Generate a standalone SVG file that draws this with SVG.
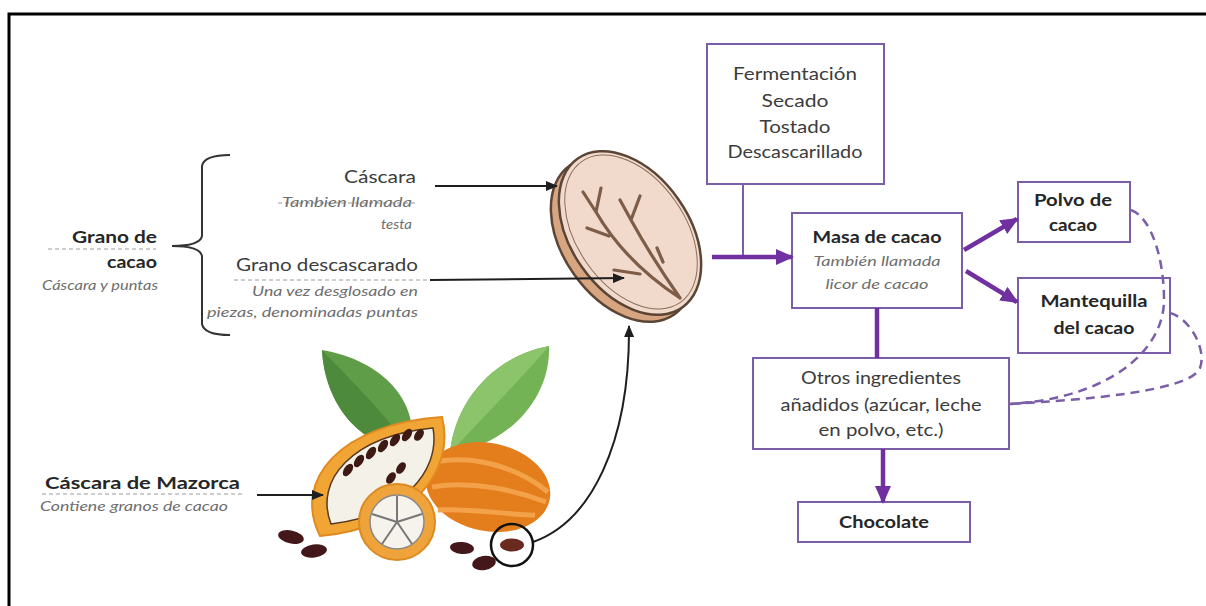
<svg xmlns="http://www.w3.org/2000/svg" width="1206" height="606" viewBox="0 0 1206 606">
<defs>
<style>
.t{font-family:Lato,"Open Sans","Liberation Sans",sans-serif;fill:#3c3c3c;font-size:17px}
.b{font-weight:bold;fill:#262626}
.it{font-style:italic;fill:#6e6e6e;font-size:13.5px}
.box{fill:#fff;stroke:#7b5ea7;stroke-width:2}
.dash{stroke:#9a9a9a;stroke-width:1;stroke-dasharray:4 3;fill:none}
.blk{stroke:#1e1e1e;stroke-width:2;fill:none}
.pur{stroke:#7030a0;stroke-width:4.5;fill:none}
.pdash{stroke:#7b5ea7;stroke-width:2.5;stroke-dasharray:9 6;fill:none}
.vein{stroke:#7d5c48;stroke-width:3.2;fill:none;stroke-linecap:round;stroke-linejoin:round}
</style>
<marker id="ab" markerUnits="userSpaceOnUse" markerWidth="12" markerHeight="10" refX="11" refY="5" orient="auto"><path d="M0,0 L12,5 L0,10 Z" fill="#1e1e1e"/></marker>
<marker id="ap" markerUnits="userSpaceOnUse" markerWidth="18" markerHeight="16" refX="16" refY="8" orient="auto"><path d="M0,0 L18,8 L0,16 Z" fill="#7030a0"/></marker>
</defs>
<rect width="1206" height="606" fill="#fff"/>
<path d="M9,606 L9,14 L1206,14" stroke="#000" stroke-width="3" fill="none"/>

<g id="grano-de-cacao">
<text class="t b" x="157" y="243" text-anchor="end" textLength="85" lengthAdjust="spacingAndGlyphs" font-size="18">Grano de</text>
<line class="dash" x1="48" y1="249" x2="156" y2="249"/>
<text class="t b" x="157" y="268" text-anchor="end" textLength="50" lengthAdjust="spacingAndGlyphs" font-size="18">cacao</text>
<text class="t it" x="158" y="290" text-anchor="end" textLength="116" lengthAdjust="spacingAndGlyphs">Cáscara y puntas</text>
<path d="M230,155 Q204,155 202,166 L202,236 Q200,246 172,246 Q200,246 202,256 L202,324 Q204,335 230,335" stroke="#333" stroke-width="2" fill="none"/>
</g>

<g id="cascara">
<text class="t" x="416" y="183" text-anchor="end" textLength="72" lengthAdjust="spacingAndGlyphs">Cáscara</text>
<line class="dash" x1="278" y1="203" x2="418" y2="203"/>
<text class="t it" x="412" y="207" text-anchor="end" textLength="130" lengthAdjust="spacingAndGlyphs">Tambien llamada</text>
<text class="t it" x="412" y="229" text-anchor="end" textLength="31" lengthAdjust="spacingAndGlyphs">testa</text>
</g>

<g id="grano-descascarado">
<text class="t" x="418" y="271" text-anchor="end" textLength="182" lengthAdjust="spacingAndGlyphs">Grano descascarado</text>
<line class="dash" x1="234" y1="280" x2="432" y2="280"/>
<text class="t it" x="418" y="296" text-anchor="end" textLength="166" lengthAdjust="spacingAndGlyphs">Una vez desglosado en</text>
<text class="t it" x="418" y="317" text-anchor="end" textLength="211" lengthAdjust="spacingAndGlyphs">piezas, denominadas puntas</text>
</g>

<g id="cascara-mazorca">
<text class="t b" x="45" y="489" textLength="195" lengthAdjust="spacingAndGlyphs" font-size="18">Cáscara de Mazorca</text>
<line class="dash" x1="42" y1="494" x2="245" y2="494"/>
<text class="t it" x="40" y="511" textLength="188" lengthAdjust="spacingAndGlyphs">Contiene granos de cacao</text>
</g>

<g id="grano-ilustracion">
<ellipse cx="0" cy="0" rx="91" ry="59" transform="translate(622,240) rotate(55)" fill="#d7a680" stroke="#5a4536" stroke-width="2.5"/>
<ellipse cx="0" cy="0" rx="91" ry="59" transform="translate(630,233) rotate(55)" fill="#f1dacb" stroke="#5a4536" stroke-width="2.5"/>
<ellipse cx="0" cy="0" rx="86" ry="54" transform="translate(631,232) rotate(55)" fill="none" stroke="#8a6d5a" stroke-width="1"/>
<path class="vein" d="M583,192 L596,212 M601,188 L596,212 Q625,262 680,298 M620,200 L631,220 M640,196 L631,220 Q652,258 680,298 M587,228 L609,236 M614,270 L640,274 M657,248 L663,262"/>
</g>

<g id="mazorca-ilustracion">
<path d="M322,350 C382,360 422,402 410,452 C360,446 325,405 322,350 Z" fill="#5f9d48"/>
<path d="M322,350 C360,390 392,420 410,452 C360,446 325,405 322,350 Z" fill="#4e8a3b"/>
<path d="M549,346 C551,400 506,446 450,453 C455,400 495,356 549,346 Z" fill="#73b356"/>
<path d="M549,346 C520,380 480,420 450,453 C455,400 495,356 549,346 Z" fill="#8cc46c"/>
<ellipse cx="0" cy="0" rx="63" ry="44" transform="translate(488,487) rotate(12)" fill="#e47d1c"/>
<path d="M435,462 C470,455 515,465 548,492 M432,487 C470,480 515,490 546,502 M438,510 C470,508 510,515 535,515" stroke="#f3a24a" stroke-width="5" fill="none"/>
<path d="M320,536 C292,480 340,424 442,417 C456,472 410,528 320,536 Z" fill="#f0a535" stroke="#e08a20" stroke-width="2"/>
<path d="M331,524 C314,480 352,436 433,428 C441,472 400,516 331,524 Z" fill="#f4f1e8" stroke="#5a3a20" stroke-width="1.5"/>
<g fill="#3d1a14">
<ellipse cx="348" cy="470" rx="4" ry="7" transform="rotate(35 348 470)"/>
<ellipse cx="359" cy="461" rx="4" ry="7" transform="rotate(35 359 461)"/>
<ellipse cx="371" cy="453" rx="4" ry="7" transform="rotate(35 371 453)"/>
<ellipse cx="383" cy="446" rx="4" ry="7" transform="rotate(35 383 446)"/>
<ellipse cx="395" cy="440" rx="4" ry="7" transform="rotate(35 395 440)"/>
<ellipse cx="407" cy="435" rx="4" ry="7" transform="rotate(35 407 435)"/>
<ellipse cx="419" cy="435" rx="4" ry="6.5" transform="rotate(35 419 435)"/>
<ellipse cx="401" cy="468" rx="4" ry="6.5" transform="rotate(35 401 468)"/>
<ellipse cx="391" cy="478" rx="4" ry="6.5" transform="rotate(35 391 478)"/>
</g>
<circle cx="397" cy="522" r="38" fill="#eea43a" stroke="#dc8a22" stroke-width="2"/>
<circle cx="397" cy="522" r="27" fill="#f6f3ec" stroke="#8a8a8a" stroke-width="1.5"/>
<path d="M397,522 L397,496 M397,522 L422,514 M397,522 L412,544 M397,522 L382,544 M397,522 L372,514" stroke="#777" stroke-width="2"/>
<g fill="#44181a">
<ellipse cx="291" cy="537" rx="13" ry="6.5" transform="rotate(12 291 537)"/>
<ellipse cx="314" cy="551" rx="13" ry="6.5" transform="rotate(-8 314 551)"/>
<ellipse cx="462" cy="548" rx="12" ry="6" transform="rotate(5 462 548)"/>
<ellipse cx="484" cy="563" rx="12" ry="7" transform="rotate(-10 484 563)"/>
<ellipse cx="512" cy="545" rx="12" ry="6.5" fill="#6b2a20"/>
</g>
<circle cx="512" cy="545" r="21" fill="none" stroke="#111" stroke-width="2.5"/>
</g>

<g id="fermentacion">
<rect class="box" x="707" y="44" width="177" height="140"/>
<text class="t" x="795" y="80" text-anchor="middle" textLength="124" lengthAdjust="spacingAndGlyphs">Fermentación</text>
<text class="t" x="795" y="107" text-anchor="middle" textLength="67" lengthAdjust="spacingAndGlyphs">Secado</text>
<text class="t" x="795" y="133" text-anchor="middle" textLength="71" lengthAdjust="spacingAndGlyphs">Tostado</text>
<text class="t" x="795" y="158" text-anchor="middle" textLength="135" lengthAdjust="spacingAndGlyphs">Descascarillado</text>
</g>

<g id="masa">
<rect class="box" x="792" y="213" width="170" height="95"/>
<text class="t b" x="877" y="243" text-anchor="middle" textLength="129" lengthAdjust="spacingAndGlyphs" font-size="16">Masa de cacao</text>
<text class="t it" x="877" y="266" text-anchor="middle" textLength="127" lengthAdjust="spacingAndGlyphs" font-size="15">También llamada</text>
<text class="t it" x="877" y="289" text-anchor="middle" textLength="103" lengthAdjust="spacingAndGlyphs" font-size="15">licor de cacao</text>
</g>

<g id="polvo">
<rect class="box" x="1018" y="182" width="112" height="60"/>
<text class="t b" x="1073" y="206" text-anchor="middle" textLength="78" lengthAdjust="spacingAndGlyphs" font-size="16">Polvo de</text>
<text class="t b" x="1073" y="231" text-anchor="middle" textLength="48" lengthAdjust="spacingAndGlyphs" font-size="16">cacao</text>
</g>

<g id="mantequilla">
<rect class="box" x="1018" y="278" width="152" height="75"/>
<text class="t b" x="1094" y="307" text-anchor="middle" textLength="107" lengthAdjust="spacingAndGlyphs" font-size="16">Mantequilla</text>
<text class="t b" x="1094" y="334" text-anchor="middle" textLength="81" lengthAdjust="spacingAndGlyphs" font-size="16">del cacao</text>
</g>

<g id="otros">
<rect class="box" x="753" y="358" width="256" height="91"/>
<text class="t" x="881" y="384" text-anchor="middle" textLength="160" lengthAdjust="spacingAndGlyphs">Otros ingredientes</text>
<text class="t" x="881" y="411" text-anchor="middle" textLength="201" lengthAdjust="spacingAndGlyphs">añadidos (azúcar, leche</text>
<text class="t" x="881" y="436" text-anchor="middle" textLength="125" lengthAdjust="spacingAndGlyphs">en polvo, etc.)</text>
</g>

<g id="chocolate">
<rect class="box" x="798" y="502" width="172" height="40"/>
<text class="t b" x="884" y="528" text-anchor="middle" textLength="90" lengthAdjust="spacingAndGlyphs" font-size="17">Chocolate</text>
</g>

<g id="connectors">
<line class="blk" x1="435" y1="186" x2="557" y2="186" marker-end="url(#ab)"/>
<line class="blk" x1="430" y1="280" x2="624" y2="278" marker-end="url(#ab)"/>
<line class="blk" x1="257" y1="495" x2="323" y2="495" marker-end="url(#ab)"/>
<path class="blk" d="M533,542 C590,522 630,445 629,326" marker-end="url(#ab)"/>
<line x1="743" y1="184" x2="743" y2="257" stroke="#7b5ea7" stroke-width="2"/>
<line class="pur" x1="712" y1="257" x2="792" y2="257" marker-end="url(#ap)"/>
<line class="pur" x1="964" y1="250" x2="1017" y2="219" marker-end="url(#ap)"/>
<line class="pur" x1="966" y1="271" x2="1017" y2="302" marker-end="url(#ap)"/>
<line class="pur" x1="877" y1="308" x2="877" y2="358"/>
<line class="pur" x1="883" y1="449" x2="883" y2="502" marker-end="url(#ap)"/>
<path class="pdash" d="M1131,210 C1152,218 1164,260 1164,300 C1164,350 1110,398 1010,404"/>
<path class="pdash" d="M1170,313 C1190,318 1207,350 1200,368 C1190,392 1080,400 1010,404"/>
<line x1="1009" y1="404" x2="1032" y2="402" stroke="#7b5ea7" stroke-width="2"/>
</g>
</svg>
